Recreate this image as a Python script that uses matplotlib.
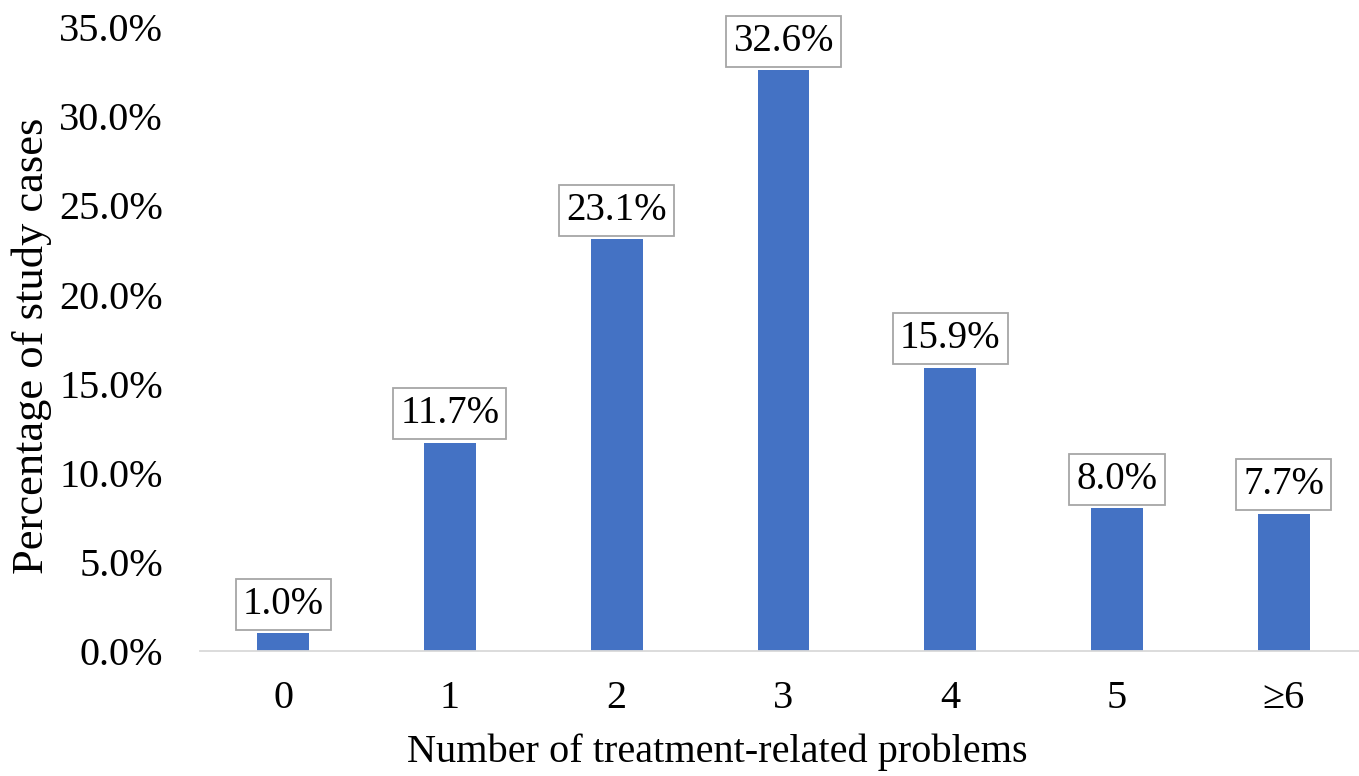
import matplotlib.pyplot as plt

categories = ['0', '1', '2', '3', '4', '5', '≥6']
percentages = [1.0, 11.7, 23.1, 32.6, 15.9, 8.0, 7.7]
y_ticks = [0, 5, 10, 15, 20, 25, 30, 35]

plt.rcParams['font.family'] = ['Liberation Serif', 'DejaVu Serif']

fig = plt.figure(figsize=(13.59, 7.76), dpi=100)
ax = fig.add_axes([0.147, 0.161, 0.859, 0.804])

x = range(len(categories))
bars = ax.bar(x, percentages, width=0.31, color='#4472C4')

# value labels in grey boxes above each bar
for xi, val in zip(x, percentages):
    ax.annotate(f'{val:.1f}%', xy=(xi, val), xytext=(0, 7.5),
                textcoords='offset points', ha='center', va='bottom',
                fontsize=28,
                bbox=dict(boxstyle='square,pad=0.18', fc='white',
                          ec='#A6A6A6', lw=1.3))

ax.set_xlim(-0.5, len(categories) - 0.5)
ax.set_ylim(0, 35)
ax.set_xticks(list(x))
ax.set_xticklabels(categories)
ax.set_yticks(y_ticks)
ax.set_yticklabels([f'{t:.1f}%' for t in y_ticks])
ax.tick_params(axis='both', length=0, labelsize=29)
ax.tick_params(axis='x', pad=21)
ax.tick_params(axis='y', pad=26.5)

for side in ['left', 'right', 'top']:
    ax.spines[side].set_visible(False)
ax.spines['bottom'].set_color('#D9D9D9')
ax.spines['bottom'].set_linewidth(1.3)

ax.set_xlabel('Number of treatment-related problems', fontsize=29, labelpad=12)
ax.xaxis.label.set_x(0.443)
ax.set_ylabel('Percentage of study cases', fontsize=32)
ax.yaxis.set_label_coords(-0.127, 0.49)

fig.savefig('out.png', dpi=100)
